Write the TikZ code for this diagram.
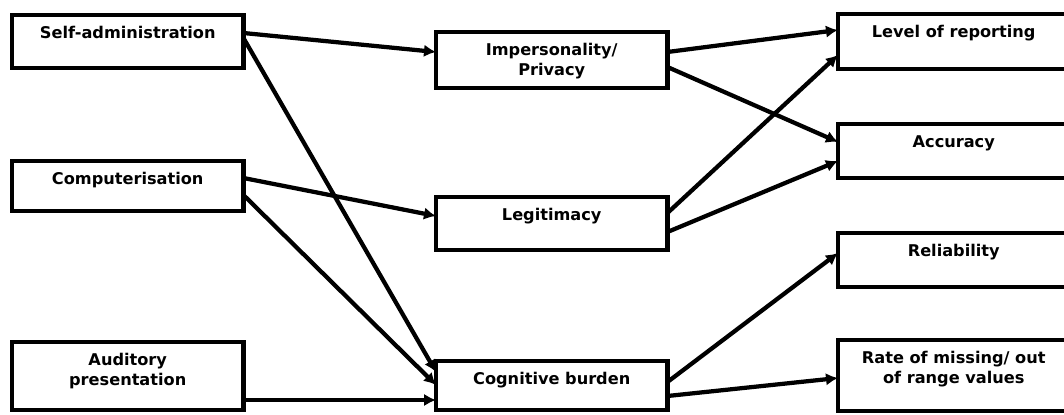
\documentclass[tikz,border=0pt]{standalone}
\usepackage{fontspec}
\setmainfont{DejaVu Sans}
\usetikzlibrary{arrows.meta,calc}

\begin{document}
\begin{tikzpicture}[x=0.02cm,y=-0.02cm,
  bx/.style={draw,line width=0.09cm,anchor=north west,outer sep=0pt,inner sep=0pt,
    minimum width=4.63cm,align=center,font=\bfseries\fontsize{9.2}{11.4}\selectfont,
    text height=0.48cm,text depth=#1},
  two/.style={text height=0.88cm},
  ar/.style={-{Latex[length=2.4mm,width=2.5mm]},line width=0.085cm}
]
\clip (0,0) rectangle (1064,415);
% modes of administration
\node[bx=0.58cm] (sa) at (12,15) {Self-administration};
\node[bx=0.52cm] (comp) at (12,161) {Computerisation};
\node[bx=0.48cm,two] (aud) at (12,342) {Auditory\\presentation};
% mediating factors
\node[bx=0.24cm,two] (imp) at (436,32) {Impersonality/\\Privacy};
\node[bx=0.58cm] (leg) at (436,197) {Legitimacy};
\node[bx=0.50cm] (cog) at (436,361) {Cognitive burden};
% outcomes
\node[bx=0.62cm] (lor) at (838,14) {Level of reporting};
\node[bx=0.60cm] (acc) at (838,124) {Accuracy};
\node[bx=0.60cm] (rel) at (838,233) {Reliability};
\node[bx=0.54cm,two] (rate) at (838,340) {Rate of missing/ out\\of range values};
\foreach \a/\i/\b/\j in {sa/18/imp/20,sa/23/cog/11,comp/17/leg/19,comp/34/cog/24,aud/58/cog/39,
  imp/20/lor/16,imp/35/acc/18,leg/16/lor/41,leg/35/acc/37,cog/21/rel/20,cog/35/rate/38}
  \draw[ar] ($(\a.north east)+(0,\i)$) -- ($(\b.north west)+(0,\j)$);
\end{tikzpicture}
\end{document}
